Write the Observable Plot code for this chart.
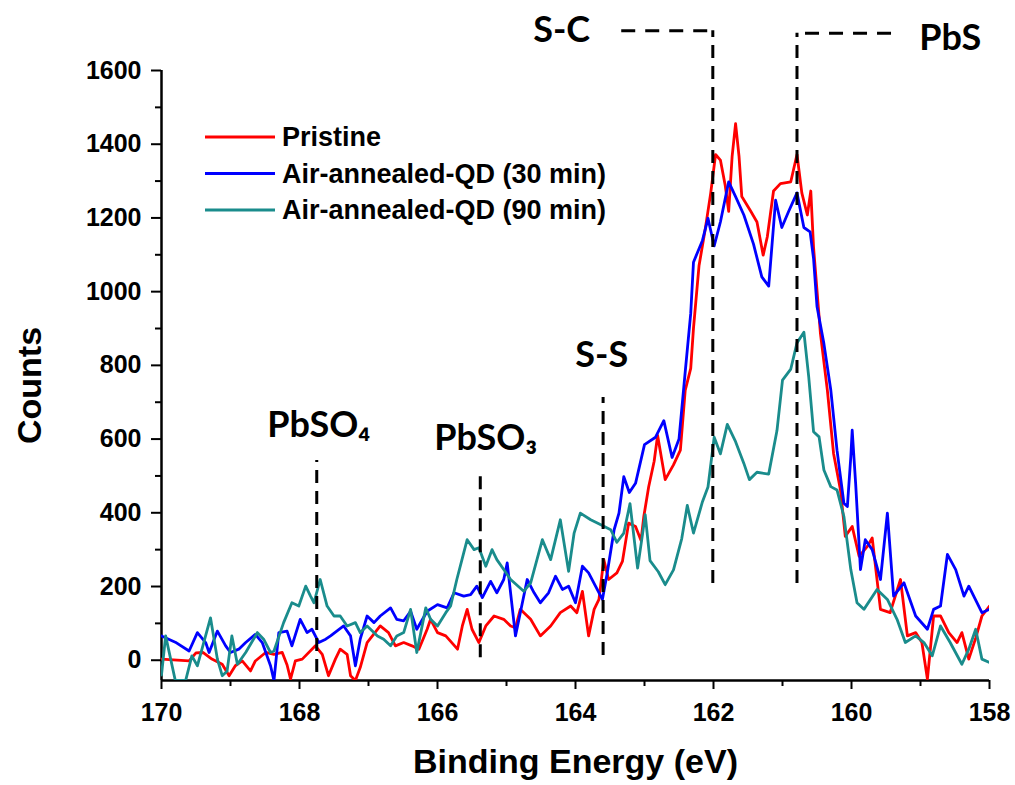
<!DOCTYPE html>
<html><head><meta charset="utf-8">
<script src="https://cdn.jsdelivr.net/npm/d3@7"></script>
<script src="https://cdn.jsdelivr.net/npm/@observablehq/plot@0.6"></script>
<style>body{margin:0;background:#fff}</style>
</head><body><div id="chart"></div>
<script>
// ---- Data ----
const seriesNames = ["Pristine", "Air-annealed-QD (30 min)", "Air-annealed-QD (90 min)"];

const redE = [170.00,169.60,169.50,169.40,169.27,169.12,169.02,168.93,168.83,168.71,168.64,168.49,168.37,168.25,168.18,168.13,168.06,167.96,167.77,167.67,167.58,167.48,167.41,167.31,167.26,167.19,167.12,167.02,166.83,166.71,166.61,166.49,166.37,166.27,166.15,166.10,166.00,165.88,165.71,165.64,165.57,165.50,165.40,165.30,165.18,165.04,164.94,164.87,164.80,164.65,164.51,164.36,164.22,164.07,163.98,163.90,163.81,163.73,163.66,163.59,163.52,163.40,163.32,163.23,163.13,163.05,163.01,162.94,162.86,162.81,162.70,162.58,162.48,162.41,162.33,162.29,162.21,162.12,162.04,161.97,161.90,161.83,161.78,161.73,161.68,161.63,161.59,161.46,161.37,161.28,161.22,161.13,161.03,160.88,160.79,160.72,160.64,160.59,160.55,160.45,160.35,160.26,160.16,160.09,159.99,159.89,159.77,159.70,159.58,159.44,159.29,159.19,159.07,158.98,158.90,158.81,158.71,158.59,158.47,158.40,158.30,158.20,158.11,158.00];
const redC = [3,-2,20,21,3,-11,-42,-15,-2,-29,-2,21,16,21,-13,-51,-2,3,39,16,-42,3,30,16,-42,-55,-20,48,93,75,39,48,39,30,84,111,75,66,30,93,138,84,48,93,120,111,93,88,138,111,66,93,129,147,129,187,66,138,165,273,219,237,268,372,363,325,390,470,540,610,490,530,570,732,792,901,1070,1169,1268,1372,1357,1288,1218,1367,1456,1367,1258,1218,1189,1099,1149,1273,1293,1298,1372,1268,1208,1273,1120,886,733,561,462,336,363,282,309,332,138,129,219,66,75,48,-51,120,120,75,48,75,3,60,120,147];

const blueE = [170.00,169.80,169.60,169.48,169.36,169.31,169.19,169.07,169.00,168.88,168.78,168.64,168.54,168.42,168.37,168.30,168.18,168.11,167.99,167.89,167.82,167.72,167.62,167.55,167.36,167.26,167.19,167.12,167.02,166.92,166.83,166.68,166.59,166.49,166.39,166.30,166.15,166.00,165.86,165.76,165.62,165.52,165.43,165.35,165.23,165.14,165.04,164.99,164.87,164.80,164.70,164.60,164.51,164.39,164.29,164.19,164.10,164.00,163.90,163.81,163.71,163.61,163.54,163.44,163.37,163.30,163.22,163.13,163.00,162.84,162.72,162.60,162.50,162.41,162.33,162.29,162.16,162.08,161.99,161.90,161.78,161.68,161.56,161.42,161.30,161.20,161.10,161.01,160.91,160.79,160.69,160.60,160.55,160.50,160.40,160.30,160.21,160.11,160.06,160.01,159.99,159.94,159.87,159.80,159.70,159.58,159.48,159.39,159.24,159.07,158.90,158.81,158.71,158.61,158.49,158.37,158.30,158.11,158.00];
const blueC = [66,49,25,75,48,21,79,39,21,30,48,70,48,-15,-55,75,79,39,111,75,84,48,57,66,93,66,-15,57,120,102,120,142,111,107,133,84,133,151,142,183,174,178,201,170,214,183,219,264,66,129,219,183,156,183,228,192,201,156,255,237,201,165,237,354,399,498,455,480,585,605,650,550,600,782,941,1080,1139,1199,1124,1189,1298,1258,1208,1129,1040,1015,1248,1174,1218,1268,1174,1162,1090,960,859,733,570,426,417,552,624,480,246,327,300,219,399,174,210,120,84,138,147,287,246,174,201,129,138];

const tealE = [170.00,169.94,169.80,169.65,169.56,169.48,169.29,169.19,169.12,169.05,168.98,168.90,168.78,168.61,168.52,168.42,168.37,168.23,168.11,168.01,167.91,167.84,167.79,167.70,167.60,167.50,167.41,167.31,167.19,167.12,167.02,166.87,166.78,166.68,166.59,166.49,166.39,166.30,166.17,166.10,166.00,165.88,165.81,165.72,165.62,165.57,165.47,165.40,165.30,165.21,165.14,165.04,164.94,164.75,164.65,164.48,164.36,164.22,164.10,164.02,163.93,163.78,163.64,163.49,163.40,163.30,163.21,163.10,163.03,162.99,162.92,162.80,162.70,162.58,162.46,162.38,162.29,162.16,162.08,161.99,161.90,161.80,161.68,161.56,161.48,161.37,161.20,161.08,161.00,160.88,160.79,160.69,160.62,160.55,160.47,160.40,160.30,160.21,160.11,160.01,159.92,159.82,159.63,159.48,159.34,159.22,159.07,158.95,158.83,158.71,158.57,158.40,158.30,158.20,158.11,158.00];
const tealC = [-40,66,-55,-55,12,-15,115,3,-42,-30,66,-11,21,75,57,21,25,102,156,147,201,174,156,219,147,120,120,93,102,75,93,66,57,39,66,75,138,21,142,111,93,129,147,219,291,327,300,305,255,300,273,246,219,187,210,327,273,381,241,345,399,381,368,354,320,345,425,250,340,395,270,240,205,245,330,420,345,430,470,605,560,640,593,534,490,510,505,623,760,790,861,890,769,620,606,516,471,462,390,246,156,138,192,165,111,48,66,48,12,93,48,-11,30,84,3,-6];

// Peak-position markers (binding energy, vertical extent in counts)
const markerLabels = ["S-C", "PbS", "S-S", "PbSO₄", "PbSO₃"];
const markerE      = [162.01, 160.79, 163.60, 167.75, 165.38];
const markerBottom = [208, 208, 13, -33, 7];
const markerTop    = [1708, 1701, 713, 542, 501];
const hookEnd      = [163.33, 159.42, null, null, null];
const labelE       = [164.20, 158.57, 163.62, 167.72, 165.30];
const labelC       = [1708, 1687, 827, 637, 602];

const yMajor = [0, 200, 400, 600, 800, 1000, 1200, 1400, 1600];
const yMinor = [100, 300, 500, 700, 900, 1100, 1300, 1500];
const xMajor = [170, 168, 166, 164, 162, 160, 158];
const xMinor = [169, 167, 165, 163, 161, 159];

// ---- Build tables ----
const colors = ["#ff0000", "#0000ff", "#1a8c8c"];
const mk = (E, C) => E.map((e, i) => ({E: e, C: C[i]}));
const series = [mk(redE, redC), mk(blueE, blueC), mk(tealE, tealC)];
const markers = markerE.map((e, i) => ({E: e, bottom: markerBottom[i], top: markerTop[i], hook: hookEnd[i]}));
const hooks = markers.filter(d => d.hook !== null);
const labels = markerLabels.map((t, i) => ({t, E: labelE[i], C: labelC[i]}));

const numFont = "'Liberation Sans', Arial, sans-serif";
const annFont = "Lato, 'Open Sans', sans-serif";
const plain = d => String(d);

const chart = Plot.plot({
  width: 1015, height: 785,
  marginLeft: 161, marginRight: 26, marginTop: 70, marginBottom: 105,
  x: {domain: [170, 158]},
  y: {domain: [-55, 1600]},
  style: {fontFamily: numFont, background: "white", color: "black"},
  marks: [
    // axes
    Plot.axisY(yMajor, {tickSize: 10, tickPadding: 10, fontSize: 25, fontWeight: "bold", label: null, strokeWidth: 2, tickFormat: plain}),
    Plot.axisY(yMinor, {tickSize: 6, tickFormat: () => "", label: null, strokeWidth: 2}),
    Plot.axisX(xMajor, {tickSize: 9, tickPadding: 14, fontSize: 25, fontWeight: "bold", label: null, strokeWidth: 2, tickFormat: plain}),
    Plot.axisX(xMinor, {tickSize: 6, tickFormat: () => "", label: null, strokeWidth: 2}),
    Plot.ruleY([-55], {x1: 170, x2: 158, strokeWidth: 2.5}),
    Plot.ruleX([170], {y1: -55, y2: 1600, strokeWidth: 2.5}),
    // axis titles
    Plot.text(["Counts"], {frameAnchor: "left", textAnchor: "middle", dx: -131, dy: 10, rotate: -90, fontSize: 34, fontWeight: "bold", fontFamily: numFont}),
    Plot.text(["Binding Energy (eV)"], {frameAnchor: "bottom", dy: 92, fontSize: 34, fontWeight: "bold", fontFamily: numFont}),
    // spectra
    ...series.map((s, i) => Plot.line(s, {x: "E", y: "C", stroke: colors[i], strokeWidth: 2.8, clip: true})),
    // markers
    Plot.ruleX(markers, {x: "E", y1: "bottom", y2: "top", stroke: "black", strokeWidth: 3, strokeDasharray: "13,8"}),
    Plot.ruleY(hooks, {y: "top", x1: "hook", x2: "E", stroke: "black", strokeWidth: 3, strokeDasharray: "14,10"}),
    Plot.text(labels, {x: "E", y: "C", text: "t", fontSize: 36, fontWeight: "bold", fontFamily: annFont})
  ]
});

// legend inside the plot area
const svg = d3.select(chart);
const lg = svg.append("g").attr("text-anchor", "start");
seriesNames.forEach((name, i) => {
  const y = 137 + i * 36.5;
  lg.append("line").attr("x1", 205).attr("x2", 275).attr("y1", y).attr("y2", y)
    .attr("stroke", colors[i]).attr("stroke-width", 3);
  lg.append("text").attr("x", 282).attr("y", y).attr("dy", "0.35em")
    .attr("text-anchor", "start")
    .attr("font-family", numFont).attr("font-weight", "bold").attr("font-size", 27)
    .attr("fill", "black").text(name);
});

document.getElementById("chart").appendChild(chart);
</script>
</body></html>
